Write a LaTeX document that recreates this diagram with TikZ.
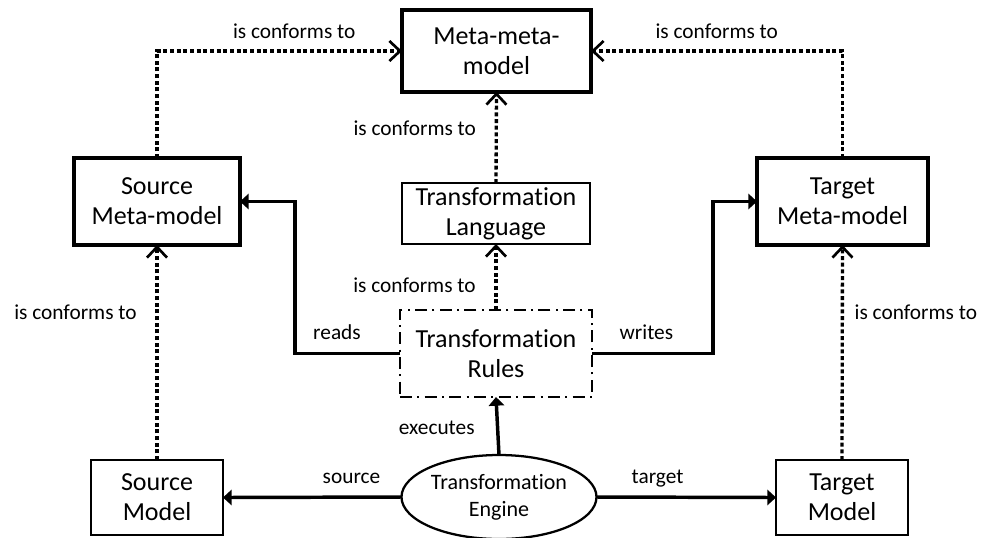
\documentclass[tikz,border=0pt]{standalone}
\usepackage{fontspec}
\setmainfont{Carlito}[Ligatures={NoCommon}]
\usetikzlibrary{arrows.meta,shapes.geometric}
\def\PX{0.75pt}
\begin{document}
\begin{tikzpicture}[x=0.75pt,y=-0.75pt,
  box/.style={draw,line width=1.7pt,align=center,inner sep=0pt,outer sep=0pt,
    font=\fontsize{19.5}{22.5}\selectfont},
  thickbox/.style={box,line width=3.2pt},
  rulebox/.style={box,line width=1.7pt,dash pattern=on 9pt off 4pt on 1.5pt off 4pt},
  engine/.style={draw,ellipse,line width=1.7pt,align=center,inner sep=0pt,outer sep=0pt,
    font=\fontsize{16.5}{20}\selectfont},
  lbl/.style={font=\fontsize{16}{19}\selectfont,inner sep=2pt,text height=11pt,text depth=3pt},
  solidarrow/.style={line width=2.6pt,-{Triangle[length=6.5pt,width=11.5pt]}},
  conform/.style={line width=2.5pt,dash pattern=on 3pt off 2pt,
    -{Straight Barb[length=8pt,width=15pt,line width=2pt]}},
]
\useasboundingbox (0,0) rectangle (982,537);

\node[thickbox,minimum width=189*\PX,minimum height=82*\PX] (mmm) at (496.5,51) {Meta-meta-\\model};
\node[box,minimum width=188*\PX,minimum height=61*\PX] (lang) at (496,213.5) {Transformation\\Language};
\node[rulebox,minimum width=192*\PX,minimum height=87*\PX] (rules) at (496,353.5) {Transformation\\Rules};
\node[thickbox,minimum width=166*\PX,minimum height=87*\PX] (smm) at (157,201.5) {Source\\Meta-model};
\node[thickbox,minimum width=171*\PX,minimum height=87*\PX] (tmm) at (842.5,201.5) {Target\\Meta-model};
\node[box,minimum width=132*\PX,minimum height=75*\PX] (sm) at (157,497.5) {Source\\Model};
\node[box,minimum width=132*\PX,minimum height=75*\PX] (tm) at (842,497.5) {Target\\Model};
\node[engine,minimum width=195*\PX,minimum height=84*\PX] (eng) at (499,497) {Transformation\\Engine};

% solid connectors
\draw[solidarrow] (rules.west) -- node[lbl,above=4pt,pos=0.6] (lreads) {reads} ++(-105,0) |- (smm.east);
\draw[solidarrow] (rules.east) -- node[lbl,above=4pt,pos=0.45] (lwrites) {writes} ++(121,0) |- (tmm.west);
\draw[solidarrow] (eng.north) -- node[lbl,left=14pt,pos=0.45] (lexec) {executes} (rules.south);
\draw[solidarrow] (eng.west) -- node[lbl,above=4pt,pos=0.28] (lsrc) {source} (sm.east);
\draw[solidarrow] (eng.east) -- node[lbl,above=4pt,pos=0.34] (ltgt) {target} (tm.west);

% conformance connectors
\draw[conform] (sm.north) -- node[lbl,left=12pt,pos=0.68] (lc1) {is conforms to} (smm.south);
\draw[conform] (tm.north) -- node[lbl,right=6pt,pos=0.68] (lc2) {is conforms to} (tmm.south);
\draw[conform] (smm.north) |- node[lbl,above=3pt,pos=0.78] (lc3) {is conforms to} (mmm.west);
\draw[conform] (tmm.north) |- node[lbl,above=3pt,pos=0.75] (lc4) {is conforms to} (mmm.east);
\draw[conform] (lang.north) -- node[lbl,left=12pt,pos=0.58] (lc5) {is conforms to} (mmm.south);
\draw[conform] (rules.north) -- node[lbl,left=12pt,pos=0.35] (lc6) {is conforms to} (lang.south);
\end{tikzpicture}
\end{document}
